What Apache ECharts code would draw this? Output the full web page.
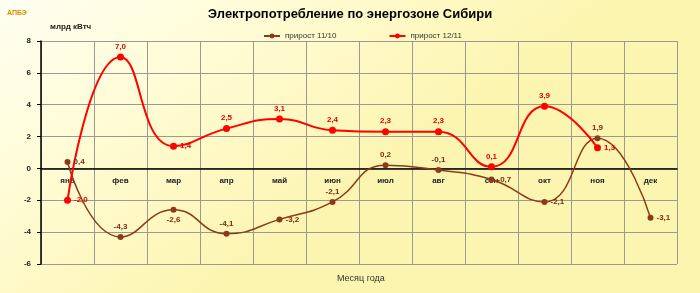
<!DOCTYPE html>
<html><head><meta charset="utf-8">
<script src="https://cdn.jsdelivr.net/npm/echarts@6/dist/echarts.min.js"></script>
<style>html,body{margin:0;padding:0;}#c{width:700px;height:293px;}</style>
</head><body><div id="c"></div>
<script>
const months = ['янв','фев','мар','апр','май','июн','июл','авг','сен','окт','ноя','дек'];
const growth1110 = [0.4,-4.3,-2.6,-4.1,-3.2,-2.1,0.2,-0.1,-0.7,-2.1,1.9,-3.1];
const growth1211 = [-2.0,7.0,1.4,2.5,3.1,2.4,2.3,2.3,0.1,3.9,1.3,null];
const yTicks = {min:-6,max:8,interval:2};
const seriesNames = ['прирост 11/10','прирост 12/11'];

// label placement (style only)
const pos1110 = ['right','top','bottom','top','right','top','top','top','right','right','top','right'];
const pos1211 = ['right','top','right','top','top','top','top','top','top','top','right','top'];

const fmt = p => p.value == null ? '' : p.value.toFixed(1).replace('.',',');
function build(vals,pos){
  return vals.map((v,i)=>({value:v,label:{position:pos[i]}}));
}
const chart = echarts.init(document.getElementById('c'));
chart.setOption({
  backgroundColor:{type:'linear',x:0,y:0,x2:0.3,y2:1,colorStops:[{offset:0,color:'#fffff2'},{offset:0.5,color:'#fffbd2'},{offset:1,color:'#fcf5b0'}]},
  title:{text:'Электропотребление по энергозоне Сибири',left:'center',top:3,textStyle:{fontSize:13,fontWeight:'bold',color:'#000',fontFamily:'Liberation Sans, Arial'}},
  legend:{top:27,left:258,itemGap:52,itemWidth:16,itemHeight:6,textStyle:{fontSize:8,color:'#333',fontFamily:'Liberation Sans, Arial'},data:seriesNames},
  grid:{left:41,right:23,top:41,bottom:29},
  xAxis:{type:'category',data:months,boundaryGap:true,
    axisLine:{onZero:true,lineStyle:{color:'#000',width:1.5}},
    axisTick:{show:false},
    axisLabel:{interval:0,fontSize:8,fontWeight:'bold',color:'#222',margin:-87,fontFamily:'Liberation Sans, Arial'},
    splitLine:{show:true,interval:0,lineStyle:{color:'#9a9a90',width:1}}},
  yAxis:{type:'value',min:yTicks.min,max:yTicks.max,interval:yTicks.interval,
    axisLine:{show:true,lineStyle:{color:'#000',width:1.5}},
    axisTick:{show:true,length:4,lineStyle:{color:'#000'}},
    axisLabel:{fontSize:8,fontWeight:'bold',color:'#222',margin:10,fontFamily:'Liberation Sans, Arial'},
    splitLine:{show:true,lineStyle:{color:'#9a9a90',width:1}}},
  graphic:[
    {type:'text',left:50,top:23,style:{text:'млрд кВтч',fontSize:8,fontWeight:'bold',fill:'#222',fontFamily:'Liberation Sans, Arial'}},
    {type:'text',left:337,top:274,style:{text:'Месяц года',fontSize:9,fill:'#333',fontFamily:'Liberation Sans, Arial'}},
    {type:'text',left:7,top:10,style:{text:'АПБЭ',fontSize:7,fontWeight:'bold',fill:'#e08a00',fontFamily:'Liberation Sans, Arial'}}
  ],
  series:[
    {name:seriesNames[0],type:'line',smooth:0.5,data:build(growth1110,pos1110),
     symbol:'circle',symbolSize:6,lineStyle:{color:'#8b3a1a',width:1.5},itemStyle:{color:'#8b3a1a'},
     label:{show:true,formatter:fmt,fontSize:8,color:'#7a2a15',fontWeight:'bold',distance:3,fontFamily:'Liberation Sans, Arial'}},
    {name:seriesNames[1],type:'line',smooth:0.5,data:build(growth1211,pos1211),
     symbol:'circle',symbolSize:7,lineStyle:{color:'#ff0000',width:2},itemStyle:{color:'#ff0000'},
     label:{show:true,formatter:fmt,fontSize:8,color:'#e00000',fontWeight:'bold',distance:3,fontFamily:'Liberation Sans, Arial'}}
  ]
});
</script></body></html>
